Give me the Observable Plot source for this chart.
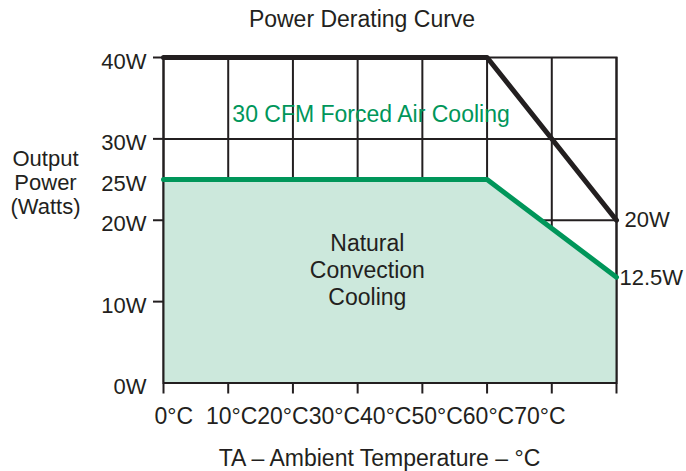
<!DOCTYPE html>
<html><head><meta charset="utf-8">
<script src="https://cdn.jsdelivr.net/npm/d3@7"></script>
<script src="https://cdn.jsdelivr.net/npm/@observablehq/plot@0.6"></script>
<style>html,body{margin:0;padding:0;background:#fff}svg{display:block}</style>
</head><body><div id="chart"></div>
<script>
// ---- data ----
const temps = [0, 50, 70];                 // °C
const forcedAirW = [40, 40, 20];           // 30 CFM forced air cooling
const naturalW = [25, 25, 13];             // natural convection cooling
const xTicks = [0, 10, 20, 30, 40, 50, 60, 70];
const xTickLabels = ["0°C", "10°C", "20°C", "30°C", "40°C", "50°C", "60°C", "70°C"];
const yLabelTicks = [0, 10, 20, 25, 30, 40];
const yTickMarks = [10, 20, 30, 40];
const yGrid = [10, 20, 30];
const endLabels = ["20W", "12.5W"];
const titleText = "Power Derating Curve";
const xTitle = "TA – Ambient Temperature – °C";
const yTitleLines = ["Output", "Power", "(Watts)"];
const forcedLabel = "30 CFM Forced Air Cooling";
const naturalLabel = "Natural\nConvection\nCooling";

const ink = "#231f20", green = "#00965a", fillGreen = "#cce8dc";
const forced = temps.map((t, i) => ({t, w: forcedAirW[i]}));
const natural = temps.map((t, i) => ({t, w: naturalW[i]}));

const chart = Plot.plot({
  width: 686, height: 471,
  marginLeft: 163, marginRight: 70, marginTop: 57, marginBottom: 88.5,
  style: {fontFamily: "'Liberation Sans', Arial, Helvetica, sans-serif", fontSize: "23px", color: ink, background: "#fff"},
  x: {domain: [0, 70], label: null},
  y: {domain: [0, 40], label: null},
  marks: [
    Plot.ruleX(xTicks, {stroke: ink, strokeWidth: 2}),
    Plot.ruleY(yGrid, {stroke: ink, strokeWidth: 2}),
    Plot.areaY(natural, {x: "t", y: "w", fill: fillGreen}),
    Plot.frame({stroke: ink, strokeWidth: 2}),
    Plot.line(natural, {x: "t", y: "w", stroke: green, strokeWidth: 5}),
    Plot.line(forced, {x: "t", y: "w", stroke: ink, strokeWidth: 5}),
    Plot.axisX({ticks: xTicks, tickSize: 11, fill: "none", stroke: ink, strokeWidth: 2, label: null}),
    Plot.axisY({ticks: yTickMarks, tickSize: 10, fill: "none", stroke: ink, strokeWidth: 2, label: null}),
    Plot.axisY({ticks: yLabelTicks, tickSize: 0, tickPadding: 17, dy: 4, fontSize: 22, fill: ink, tickFormat: d => d + "W", label: null}),
    Plot.text([xTickLabels[0] + "\u00a0\u00a0" + xTickLabels.slice(1).join("")], {x: xTicks[0], y: 0, dx: -9, dy: 40.5, textAnchor: "start", lineAnchor: "bottom", fontSize: 23, fill: ink}),
    Plot.text([forced[forced.length - 1]], {x: "t", y: "w", text: () => endLabels[0], dx: 8, textAnchor: "start", lineAnchor: "middle", fontSize: 22, fill: ink}),
    Plot.text([natural[natural.length - 1]], {x: "t", y: "w", text: () => endLabels[1], dx: 3, dy: 1, textAnchor: "start", lineAnchor: "middle", fontSize: 22, fill: ink}),
    Plot.text([forcedLabel], {x: 32.07, y: 32.1, textAnchor: "middle", lineAnchor: "bottom", fontSize: 23, fill: green}),
    Plot.text([naturalLabel], {x: 31.5, y: 14, textAnchor: "middle", lineAnchor: "middle", lineHeight: 1.17, fontSize: 23, fill: ink}),
    Plot.text([titleText], {frameAnchor: "top", dx: -28, dy: -30.3, lineAnchor: "bottom", fontSize: 23, fill: ink}),
    Plot.text([xTitle], {frameAnchor: "bottom", dx: -10.5, dy: 82.5, lineAnchor: "bottom", fontSize: 23, fill: ink}),
    Plot.text([yTitleLines.join("\n")], {frameAnchor: "left", dx: -118, dy: -6.5, textAnchor: "middle", lineAnchor: "bottom", lineHeight: 1.08, fontSize: 22, fill: ink})
  ]
});
document.getElementById("chart").appendChild(chart);
</script>
</body></html>
